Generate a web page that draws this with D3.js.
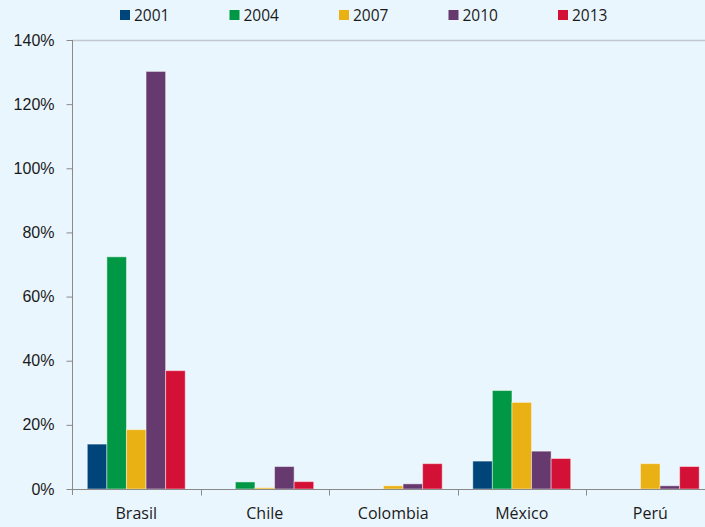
<!DOCTYPE html>
<html>
<head>
<meta charset="utf-8">
<script src="https://cdn.jsdelivr.net/npm/d3@7"></script>
<style>
  html, body { margin: 0; padding: 0; background: #eaf6fe; }
  svg { display: block; font-family: "Open Sans", "Noto Sans", sans-serif; }
</style>
</head>
<body>
<svg id="chart" width="705" height="527"></svg>
<script>
// Countries along the x axis
const categories = ["Brasil", "Chile", "Colombia", "México", "Perú"];
// Years shown as series
const years = ["2001", "2004", "2007", "2010", "2013"];
// Values in percent, one array per year (ordered like categories)
const v2001 = [14.0, 0, 0, 8.7, 0];
const v2004 = [72.4, 2.2, 0, 30.7, 0];
const v2007 = [18.5, 0.4, 1.0, 27.0, 7.9];
const v2010 = [130.2, 7.0, 1.6, 11.8, 1.0];
const v2013 = [36.9, 2.3, 7.9, 9.5, 7.0];
const seriesValues = [v2001, v2004, v2007, v2010, v2013];
const colors = ["#00457a", "#009844", "#e9b113", "#663a6f", "#d31035"];
const yTicks = [0, 20, 40, 60, 80, 100, 120, 140];

const svg = d3.select("#chart");
const plotLeft = 72, plotTop = 40, plotBottom = 489, bandW = 128.5;

const x = d3.scaleBand()
  .domain(categories)
  .range([plotLeft, plotLeft + bandW * categories.length])
  .padding(0);

// the five year bars fill the middle ~77% of each country band
const xInner = d3.scaleBand()
  .domain(years)
  .range([bandW * 0.119, bandW * 0.881])
  .padding(0);

const y = d3.scaleLinear().domain([0, 140]).range([plotBottom, plotTop]);

// top border of the plot area
svg.append("line")
  .attr("x1", plotLeft).attr("x2", 705)
  .attr("y1", plotTop + 0.5).attr("y2", plotTop + 0.5)
  .attr("stroke", "#c3c8d0").attr("stroke-width", 1.5);

// bars
const groups = svg.append("g").selectAll("g")
  .data(years)
  .join("g")
  .attr("fill", (d, i) => colors[i]);

groups.selectAll("rect")
  .data((yr, i) => categories.map((c, j) => ({ c, yr, v: seriesValues[i][j] })).filter(d => d.v > 0))
  .join("rect")
  .attr("x", d => x(d.c) + xInner(d.yr))
  .attr("width", xInner.bandwidth())
  .attr("y", d => y(d.v))
  .attr("height", d => plotBottom - y(d.v))
  .attr("stroke", "rgba(255,255,255,0.45)")
  .attr("stroke-width", 1);

// y axis
const yAxis = d3.axisLeft(y)
  .tickValues(yTicks)
  .tickFormat(d => d + "%")
  .tickSize(6)
  .tickPadding(12);
const gy = svg.append("g")
  .attr("transform", `translate(${plotLeft + 0.5},0)`)
  .call(yAxis);
gy.select(".domain").attr("stroke", "#8a8a8a").attr("d", `M0,${plotTop}V${plotBottom + 6}`);
gy.selectAll(".tick line").attr("stroke", "#8a8a8a");
gy.selectAll(".tick text")
  .attr("fill", "#1a1a1a")
  .style("font-size", "16px");

// x axis: ticks at band boundaries, labels centred in bands
const gx = svg.append("g").attr("transform", `translate(0,${plotBottom + 0.5})`);
gx.append("line")
  .attr("x1", plotLeft).attr("x2", 705)
  .attr("stroke", "#8a8a8a");
gx.selectAll("line.sep")
  .data(categories.slice(1))
  .join("line")
  .attr("class", "sep")
  .attr("x1", d => Math.round(x(d)) + 0.5).attr("x2", d => Math.round(x(d)) + 0.5)
  .attr("y1", 0).attr("y2", 6)
  .attr("stroke", "#8a8a8a");
gx.selectAll("text")
  .data(categories)
  .join("text")
  .attr("x", d => x(d) + x.bandwidth() / 2)
  .attr("y", 29)
  .attr("text-anchor", "middle")
  .attr("fill", "#1a1a1a")
  .style("font-size", "16px")
  .text(d => d);

// legend
const legend = svg.append("g");
const legItems = legend.selectAll("g")
  .data(years)
  .join("g")
  .attr("transform", (d, i) => `translate(${120 + i * 109.5},10)`);
legItems.append("rect")
  .attr("width", 10).attr("height", 10)
  .attr("fill", (d, i) => colors[i]);
legItems.append("text")
  .attr("x", 14).attr("y", 10.5)
  .attr("fill", "#1a1a1a")
  .style("font-size", "15.5px")
  .text(d => d);
</script>
</body>
</html>
